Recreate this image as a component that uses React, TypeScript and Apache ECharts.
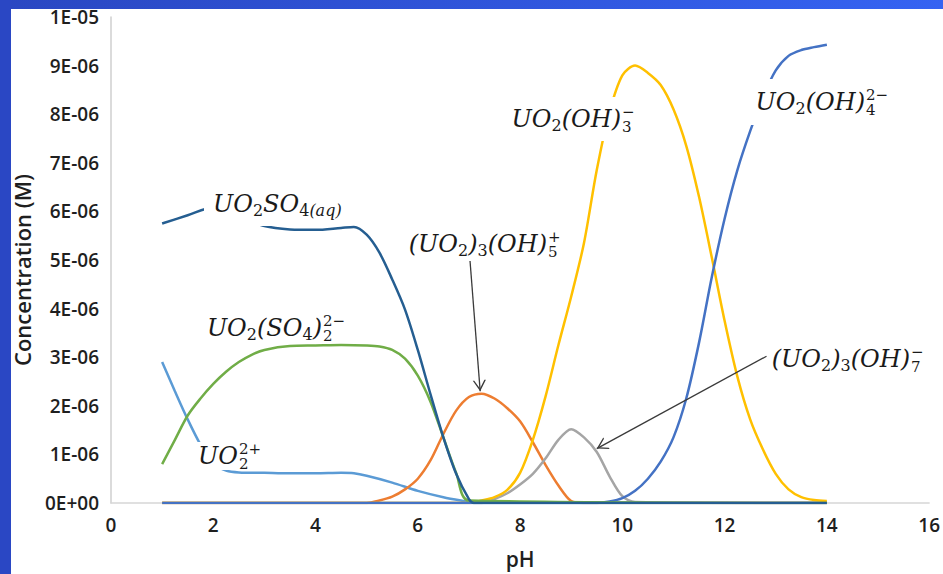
import React, { useEffect, useRef } from "react";
import * as echarts from "echarts";

// ---- data (concentration in units of 1E-06 M) ----
const yTickLabels = ["0E+00", "1E-06", "2E-06", "3E-06", "4E-06", "5E-06", "6E-06", "7E-06", "8E-06", "9E-06", "1E-05"];

const phUO2 = [1, 1.25, 1.5, 1.75, 2, 2.25, 2.5, 3, 3.5, 4, 4.5, 4.75, 5, 5.5, 6, 6.5, 7, 7.1, 14];
const valUO2 = [2.9, 2.3, 1.72, 1.2, 0.8, 0.67, 0.63, 0.62, 0.61, 0.61, 0.62, 0.61, 0.56, 0.42, 0.25, 0.12, 0.02, 0, 0];

const phOH5 = [1, 5, 5.25, 5.5, 5.75, 6, 6.25, 6.5, 6.75, 7, 7.25, 7.5, 7.75, 8, 8.25, 8.5, 8.75, 9, 9.25, 14];
const valOH5 = [0, 0, 0.05, 0.13, 0.28, 0.5, 0.88, 1.42, 1.9, 2.18, 2.25, 2.15, 1.95, 1.68, 1.25, 0.78, 0.36, 0.04, 0, 0];

const phOH7 = [1, 7.25, 7.5, 7.75, 8, 8.25, 8.5, 8.75, 9, 9.25, 9.5, 9.75, 10, 10.25, 14];
const valOH7 = [0, 0, 0.08, 0.2, 0.38, 0.6, 0.92, 1.3, 1.52, 1.35, 1.05, 0.55, 0.14, 0.02, 0];

const phOH3 = [1, 7, 7.25, 7.5, 7.75, 8, 8.25, 8.5, 8.75, 9, 9.25, 9.5, 9.75, 10, 10.25, 10.5, 10.75, 11, 11.25, 11.5, 11.75, 12, 12.25, 12.5, 12.75, 13, 13.25, 13.5, 13.75, 14];
const valOH3 = [0, 0, 0.05, 0.12, 0.27, 0.62, 1.3, 2.2, 3.25, 4.25, 5.35, 6.85, 8.05, 8.8, 9.0, 8.85, 8.6, 8.1, 7.35, 6.3, 5.05, 3.75, 2.6, 1.72, 1.1, 0.6, 0.28, 0.12, 0.06, 0.04];

const phOH4 = [1, 9.5, 9.75, 10, 10.25, 10.5, 10.75, 11, 11.25, 11.5, 11.75, 12, 12.25, 12.5, 12.75, 13, 13.25, 13.5, 13.75, 14];
const valOH4 = [0, 0, 0.03, 0.1, 0.25, 0.5, 0.85, 1.35, 2.15, 3.3, 4.65, 5.85, 6.85, 7.65, 8.35, 8.9, 9.2, 9.32, 9.38, 9.43];

const phSO4x2 = [1, 1.25, 1.5, 1.75, 2, 2.25, 2.5, 2.75, 3, 3.5, 4, 4.5, 5, 5.25, 5.5, 5.75, 6, 6.25, 6.5, 6.75, 7, 14];
const valSO4x2 = [0.8, 1.3, 1.8, 2.15, 2.45, 2.7, 2.9, 3.05, 3.15, 3.23, 3.24, 3.25, 3.24, 3.22, 3.15, 2.97, 2.62, 2.08, 1.35, 0.62, 0.05, 0];

const phSO4aq = [1, 1.5, 2, 2.5, 3, 3.5, 4, 4.5, 4.75, 5, 5.25, 5.5, 5.75, 6, 6.25, 6.5, 6.75, 7, 7.1, 14];
const valSO4aq = [5.75, 5.92, 6.08, 5.9, 5.7, 5.63, 5.62, 5.66, 5.68, 5.52, 5.15, 4.6, 3.98, 3.15, 2.23, 1.35, 0.6, 0.08, 0, 0];

// arrows [pH, conc]
const arrow1From = [7.02, 5.0];
const arrow1To = [7.22, 2.3];
const arrow2From = [12.82, 3.02];
const arrow2To = [9.5, 1.12];

const zip = (xs: number[], ys: number[]) => xs.map((x, i) => [x, ys[i]]);

const chevron = "path://M10,10 L16,20 L14.6,20 L10,12.4 L5.4,20 L4,20 Z M0,0 L20,0 Z";

const SERIF = "DejaVu Serif";
const INK = "#1a1a1a";
const MAIN = 24;
const SUB = 16;
const SCRIPT = 15;
const rich = {
  m: { fontFamily: SERIF, fontStyle: "italic", fontSize: MAIN, fill: INK },
  s: { fontFamily: SERIF, fontStyle: "normal", fontSize: SUB, height: 15, verticalAlign: "bottom", fill: INK },
  si: { fontFamily: SERIF, fontStyle: "italic", fontSize: SUB, height: 15, verticalAlign: "bottom", fill: INK },
};

function chemLabel(ax: number, cy: number, main: string, script: string | null, pv: number, pl: number, pr: number) {
  const els: any[] = [
    {
      type: "text",
      x: ax,
      y: cy,
      z: 100,
      silent: true,
      style: {
        text: main,
        rich,
        lineHeight: 28,
        align: script ? "right" : "left",
        verticalAlign: "middle",
        backgroundColor: "#ffffff",
        padding: script ? [pv, 0, pv, pl] : [pv, pr, pv, pl],
        fill: INK,
        fontFamily: SERIF,
        fontSize: MAIN,
      },
    },
  ];
  if (script) {
    els.push({
      type: "text",
      x: ax + 1,
      y: cy,
      z: 100,
      silent: true,
      style: {
        text: script,
        fontFamily: SERIF,
        fontSize: SCRIPT,
        lineHeight: 15,
        align: "left",
        verticalAlign: "middle",
        backgroundColor: "#ffffff",
        padding: [pv - 1, pr, pv - 1, 0].map((p) => Math.max(0, p)),
        fill: INK,
      },
    });
  }
  return els;
}

function lineSeries(name: string, color: string, xs: number[], ys: number[], extra: any = {}) {
  return {
    name,
    type: "line",
    data: zip(xs, ys),
    smooth: 0.3,
    showSymbol: false,
    symbol: "none",
    lineStyle: { color, width: 2.5 },
    itemStyle: { color },
    ...extra,
  };
}

function arrow(from: number[], to: number[]) {
  return {
    silent: true,
    animation: false,
    symbol: ["none", chevron],
    symbolSize: 22,
    lineStyle: { color: "#3a3a3a", width: 1.3, type: "solid" },
    label: { show: false },
    emphasis: { disabled: true },
    data: [[{ coord: from }, { coord: to }]],
  };
}

export default function App() {
  const ref = useRef<HTMLDivElement>(null);
  useEffect(() => {
    const chart = echarts.init(ref.current as HTMLDivElement, null, { renderer: "svg" });
    const tickFont = { fontFamily: "Open Sans", fontWeight: 600, fontSize: 19, color: "#1f1f1f" };
    const option: any = {
      animation: false,
      backgroundColor: "#ffffff",
      grid: { left: 111, right: 6, top: 17, bottom: 64, containLabel: false },
      xAxis: {
        type: "value",
        min: 0,
        max: 16,
        interval: 2,
        name: "pH",
        nameLocation: "middle",
        nameGap: 45,
        nameTextStyle: { fontFamily: "Open Sans", fontWeight: 600, fontSize: 21, color: "#1f1f1f" },
        axisLine: { show: true, lineStyle: { color: "#d6d6d6", width: 1.5 } },
        axisTick: { show: false },
        splitLine: { show: false },
        axisLabel: { ...tickFont, margin: 12 },
      },
      yAxis: {
        type: "value",
        min: 0,
        max: 10,
        interval: 1,
        axisLine: { show: true, lineStyle: { color: "#cfcfcf", width: 1.5 } },
        axisTick: { show: false },
        splitLine: { show: false },
        axisLabel: { ...tickFont, margin: 12, formatter: (v: number) => yTickLabels[Math.round(v)] },
      },
      series: [
        lineSeries("UO2 2+", "#5B9BD5", phUO2, valUO2),
        lineSeries("(UO2)3(OH)5+", "#ED7D31", phOH5, valOH5, { markLine: arrow(arrow1From, arrow1To) }),
        lineSeries("(UO2)3(OH)7-", "#A5A5A5", phOH7, valOH7, { markLine: arrow(arrow2From, arrow2To) }),
        lineSeries("UO2(OH)3-", "#FFC000", phOH3, valOH3),
        lineSeries("UO2(OH)4 2-", "#4472C4", phOH4, valOH4),
        lineSeries("UO2(SO4)2 2-", "#70AD47", phSO4x2, valSO4x2),
        lineSeries("UO2SO4(aq)", "#255E91", phSO4aq, valSO4aq),
      ],
      graphic: [
        {
          type: "text",
          x: 22,
          y: 270,
          rotation: Math.PI / 2,
          z: 50,
          silent: true,
          style: {
            text: "Concentration (M)",
            fontFamily: "Open Sans",
            fontWeight: 600,
            fontSize: 22,
            fill: "#1f1f1f",
            align: "center",
            verticalAlign: "middle",
          },
        },
        ...chemLabel(204, 204, "{m|UO}{s|2}{m|SO}{s|4}{si|(aq)}", null, 8, 9, 6),
        ...chemLabel(322, 328, "{m|UO}{s|2}{m|(SO}{s|4}{m|)}", "2−\n2", 1, 4, 4),
        ...chemLabel(238, 456, "{m|UO}", "2+\n2", 0, 3, 3),
        ...chemLabel(547, 244, "{m|(UO}{s|2}{m|)}{s|3}{m|(OH)}", "+\n5", 3, 4, 4),
        ...chemLabel(621, 119, "{m|UO}{s|2}{m|(OH)}", "−\n3", 8, 6, 4),
        ...chemLabel(865, 102, "{m|UO}{s|2}{m|(OH)}", "2−\n4", 9, 6, 4),
        ...chemLabel(910, 359, "{m|(UO}{s|2}{m|)}{s|3}{m|(OH)}", "−\n7", 3, 4, 4),
        {
          type: "rect",
          z: 200,
          silent: true,
          shape: { x: 0, y: 0, width: 943, height: 9 },
          style: {
            fill: new echarts.graphic.LinearGradient(0, 0, 1, 0, [
              { offset: 0, color: "#2a47c2" },
              { offset: 1, color: "#3563f2" },
            ]),
          },
        },
        {
          type: "rect",
          z: 200,
          silent: true,
          shape: { x: 0, y: 0, width: 11, height: 574 },
          style: { fill: "#2a47c4" },
        },
      ],
    };
    chart.setOption(option);
    return () => chart.dispose();
  }, []);
  return (
    <div
      ref={ref}
      style={{ position: "fixed", left: 0, top: 0, width: 943, height: 574, background: "#fff" }}
    />
  );
}
